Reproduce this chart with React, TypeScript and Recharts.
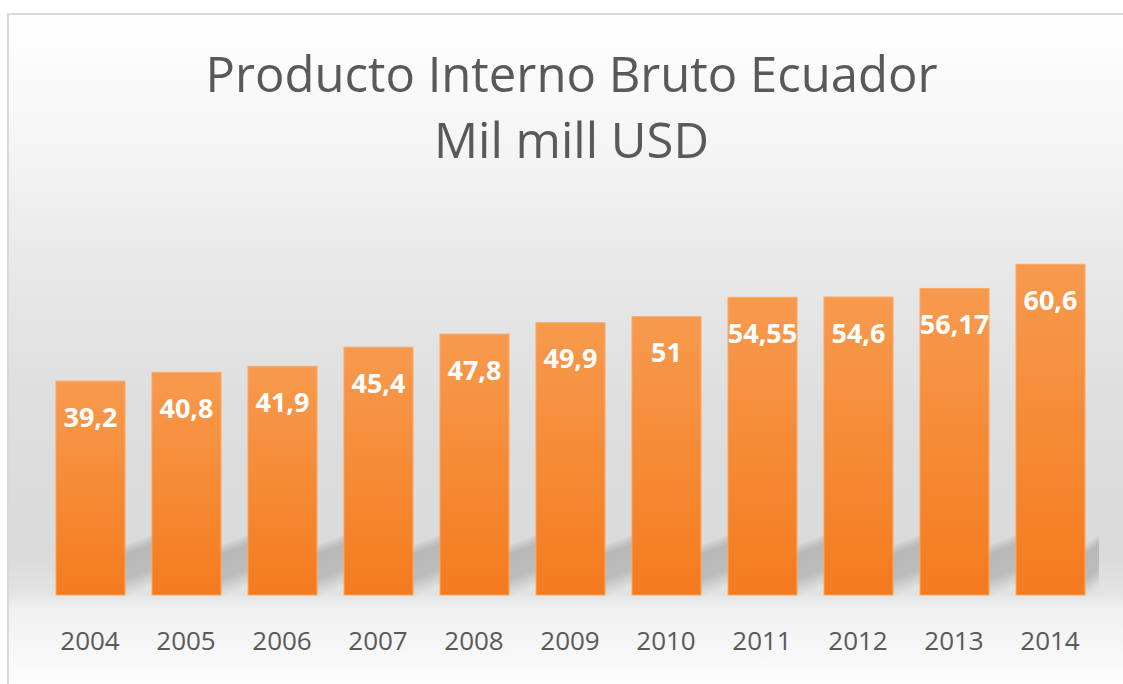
import { BarChart, Bar, XAxis, YAxis, LabelList } from 'recharts';

const YEARS = ['2004', '2005', '2006', '2007', '2008', '2009', '2010', '2011', '2012', '2013', '2014'];
const PIB = [39.2, 40.8, 41.9, 45.4, 47.8, 49.9, 51, 54.55, 54.6, 56.17, 60.6];
const TITLE_LINES = ['Producto Interno Bruto Ecuador', 'Mil mill USD'];

const chartData = YEARS.map((year, i) => ({ year, pib: PIB[i] }));

const fmt = (v: number) => String(v).replace('.', ',');

// bar with the soft grey shadow in the gap to its right
const ShadowBar = (props: any) => {
    const { x, y, width, height, index } = props;
    const base = y + height;
    const sw = index === YEARS.length - 1 ? 14 : 27;
    return (
        <g>
            <rect x={x + width} y={base - 70} width={sw} height={70} fill="url(#shadowGrad)" />
            <rect x={x} y={y} width={width} height={height} fill="url(#barGrad)" stroke="#f8a866" strokeWidth={1} />
        </g>
    );
};

const ValueLabel = (props: any) => {
    const { x, y, width, value } = props;
    return (
        <text
            x={x + width / 2}
            y={y + 35}
            textAnchor="middle"
            dominantBaseline="central"
            fill="#ffffff"
            style={{ fontFamily: '"Open Sans", sans-serif', fontWeight: 700, fontSize: 27 }}
        >
            {fmt(value)}
        </text>
    );
};

export default function App() {
    return (
        <div style={{ position: 'fixed', left: 0, top: 0, width: 1123, height: 684, overflow: 'hidden', background: '#ffffff' }}>
            <svg width={0} height={0} style={{ position: 'absolute' }}>
                <defs>
                    <linearGradient id="barGrad" x1="0" y1="0" x2="0" y2="1">
                        <stop offset="0%" stopColor="#f79a4e" />
                        <stop offset="100%" stopColor="#f47b1e" />
                    </linearGradient>
                    <linearGradient id="shadowGrad" x1="0" y1="0" x2="0.15" y2="1">
                        <stop offset="0%" stopColor="#b4b4b4" stopOpacity={0} />
                        <stop offset="27%" stopColor="#b4b4b4" stopOpacity={0} />
                        <stop offset="42%" stopColor="#b8b8b8" stopOpacity={1} />
                        <stop offset="76%" stopColor="#bcbcbc" stopOpacity={1} />
                        <stop offset="100%" stopColor="#e2e2e2" stopOpacity={1} />
                    </linearGradient>
                </defs>
            </svg>

            {/* frame with the grey background gradient */}
            <div style={{
                position: 'absolute', left: 7, top: 13, width: 1140, height: 700,
                borderLeft: '2px solid #d9d9d9', borderTop: '2px solid #d9d9d9',
                background: 'linear-gradient(to bottom, #ffffff 0px, #f4f4f4 140px, #e9e9e9 240px, #dedede 390px, #dadada 540px, #e3e3e3 578px, #f0f0f0 592px, #f6f6f6 630px, #ffffff 680px)',
            }} />

            {/* title */}
            {TITLE_LINES.map((line, i) => (
                <div key={line} style={{
                    position: 'absolute', left: 0, width: 1143, top: i === 0 ? 43 : 109, textAlign: 'center',
                    fontFamily: '"Open Sans", sans-serif', fontSize: 49, color: '#595959', lineHeight: '60px', whiteSpace: 'nowrap',
                }}>
                    {line}
                </div>
            ))}

            <div style={{ position: 'absolute', left: 0, top: 0 }}>
                <BarChart width={1123} height={684} data={chartData} margin={{ left: 42, right: 25, top: 213, bottom: 59 }}>
                    <XAxis
                        dataKey="year"
                        axisLine={false}
                        tickLine={false}
                        tickSize={0}
                        tickMargin={37}
                        height={30}
                        interval={0}
                        tick={{ fill: '#595959', fontSize: 26, fontFamily: '"Open Sans", sans-serif' }}
                    />
                    <YAxis hide domain={[0, 70]} />
                    <Bar dataKey="pib" barSize={69} shape={ShadowBar} isAnimationActive={false}>
                        <LabelList dataKey="pib" content={ValueLabel} />
                    </Bar>
                </BarChart>
            </div>
        </div>
    );
}
